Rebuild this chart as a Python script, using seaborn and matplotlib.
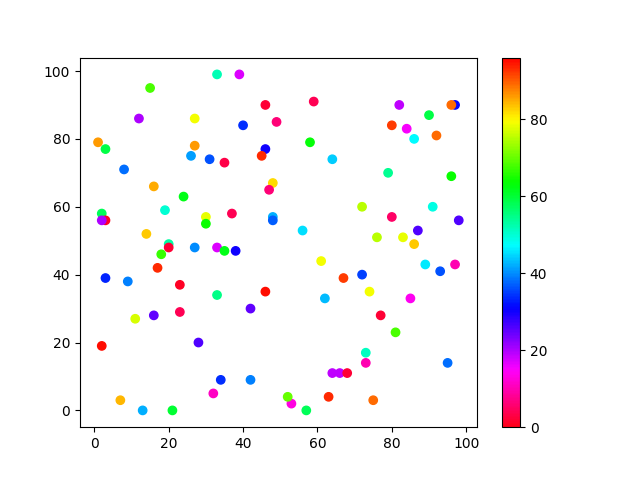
import matplotlib
matplotlib.use("Agg")
import matplotlib.pyplot as plt
import seaborn as sns
import pandas as pd

# --------------------------
# Data
# --------------------------
x_vals = [33, 39, 15, 46, 12, 27, 40, 49, 1, 3, 27, 46, 45, 26, 31, 35, 8, 16, 48, 47,
          24, 19, 2, 3, 2, 37, 30, 30, 48, 48, 14,
          20, 20, 27, 33, 35, 38, 18, 17, 3, 9, 23, 33, 46, 42, 11, 16, 23, 2, 28,
          34, 42, 32, 7, 13, 21,
          59, 58, 64, 82, 97, 96, 90, 80, 84, 92, 86, 79, 96, 72, 91, 80, 98, 56, 87,
          76, 83, 86,
          61, 89, 97, 67, 72, 93, 62, 74, 85, 77, 81, 73, 73, 95, 64, 66, 68, 53, 52,
          63, 75, 57]
y_vals = [99, 99, 95, 90, 86, 86, 84, 85, 79, 77, 78, 77, 75, 75, 74, 73, 71, 66, 67, 65,
          63, 59, 58, 56, 56, 58, 57, 55, 57, 56, 52,
          49, 48, 48, 48, 47, 47, 46, 42, 39, 38, 37, 34, 35, 30, 27, 28, 29, 19, 20,
          9, 9, 5, 3, 0, 0,
          91, 79, 74, 90, 90, 90, 87, 84, 83, 81, 80, 70, 69, 60, 60, 57, 56, 53, 53,
          51, 51, 49,
          44, 43, 43, 39, 40, 41, 33, 35, 33, 28, 23, 17, 14, 14, 11, 11, 11, 2, 4,
          4, 3, 0]
colour_vals = [52, 17, 68, 2, 20, 79, 34, 6, 86, 59, 86, 30, 93, 41, 36, 3, 38, 85, 82, 6,
               62, 50, 58, 1, 20, 4, 78, 64, 42, 37, 83,
               53, 2, 40, 17, 62, 30, 67, 93, 33, 39, 1, 55, 95, 25, 77, 25, 4, 95, 26,
               34, 39, 11, 84, 42, 60,
               4, 63, 44, 19, 31, 89, 59, 92, 15, 89, 47, 54, 64, 75, 49, 5, 26, 45, 26,
               75, 78, 83,
               79, 46, 10, 92, 35, 36, 43, 79, 14, 2, 68, 51, 10, 38, 19, 19, 2, 13, 70,
               93, 89, 58]

df = pd.DataFrame({"x": x_vals, "y": y_vals, "c": colour_vals})

# --------------------------
# Plot
# --------------------------
fig, ax = plt.subplots(figsize=(6.4, 4.8), dpi=100)
norm = plt.Normalize(0, 96)
sns.scatterplot(data=df, x="x", y="y", hue="c", palette="hsv_r", hue_norm=norm,
                s=36, edgecolor="face", linewidth=1, legend=False, ax=ax)
ax.set_xlabel("")
ax.set_ylabel("")

sm = plt.cm.ScalarMappable(cmap="hsv_r", norm=norm)
sm.set_array([])
fig.colorbar(sm, ax=ax)

plt.savefig("out.png")
